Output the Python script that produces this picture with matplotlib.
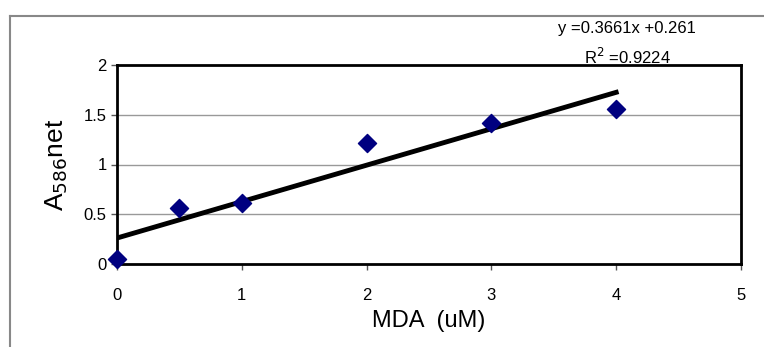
import matplotlib.pyplot as plt
from matplotlib.lines import Line2D

# MDA standard curve values
mda = [0, 0.5, 1, 2, 3, 4]
absorb = [0.05, 0.56, 0.61, 1.22, 1.42, 1.56]
slope = 0.3661
intercept = 0.261
r2 = 0.9224
xticks = [0, 1, 2, 3, 4, 5]
yticks = [0, 0.5, 1, 1.5, 2]

plt.rcParams['font.family'] = ['Liberation Sans', 'DejaVu Sans']

fig = plt.figure(figsize=(7.64, 3.47), dpi=100)
ax = fig.add_axes([117/764, 1 - 264/347, (741 - 117)/764, (264 - 65)/347])

# gridlines
for v in yticks[1:-1]:
    ax.axhline(v, color='#999999', lw=1, zorder=1)

# trend line from 0 to last point
xs = [mda[0], mda[-1]]
ax.plot(xs, [slope*x + intercept for x in xs], color='black', lw=3.5, zorder=2)
ax.scatter(mda, absorb, marker='D', s=85, color='#000080', zorder=3, clip_on=False)

ax.set_xlim(0, 5)
ax.set_ylim(0, 2)
ax.set_xticks(xticks)
ax.set_yticks(yticks)
ax.set_xticklabels([str(t) for t in xticks])
ax.set_yticklabels(['0', '0.5', '1', '1.5', '2'])
ax.tick_params(axis='both', direction='out', length=4, width=1, labelsize=12, color='#555555')
ax.tick_params(axis='x', pad=13)
for s in ax.spines.values():
    s.set_linewidth(2)
    s.set_color('black')

ax.set_xlabel('MDA  (uM)', fontsize=17, labelpad=5)
ax.set_ylabel('A$_{586}$net', fontsize=19, labelpad=10)

fig.text(627/764, 1 - 28/347, 'y =0.3661x +0.261', ha='center', va='center', fontsize=12)
fig.text(627/764, 1 - 57/347, 'R$^2$ =%.4f' % r2, ha='center', va='center', fontsize=12)

# outer chart border
fig.add_artist(Line2D([10/764, 10/764], [0, 1 - 16/347], color='#888888', lw=1.5))
fig.add_artist(Line2D([10/764, 1], [1 - 16/347, 1 - 16/347], color='#888888', lw=1.5))

fig.savefig('out.png', dpi=100)
